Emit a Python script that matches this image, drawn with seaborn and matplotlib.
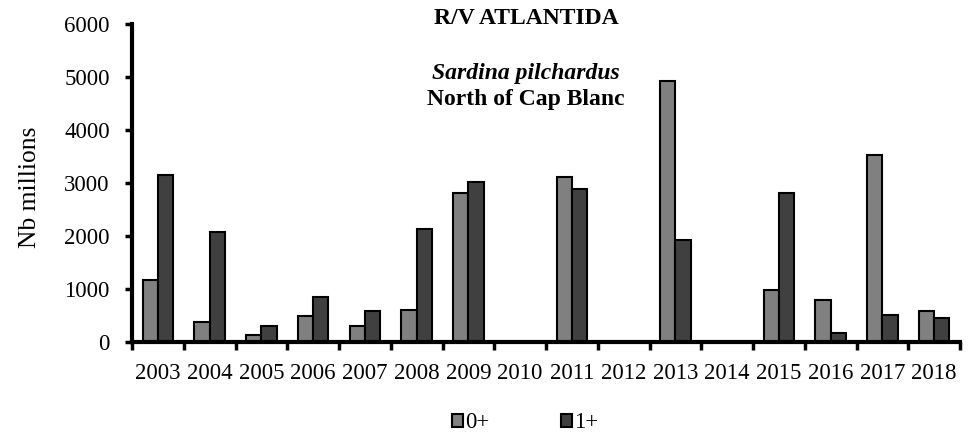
import numpy as np
import pandas as pd
import matplotlib
matplotlib.use("Agg")
import matplotlib.pyplot as plt
import seaborn as sns
from matplotlib.patches import Patch

years = ["2003", "2004", "2005", "2006", "2007", "2008", "2009", "2010",
         "2011", "2012", "2013", "2014", "2015", "2016", "2017", "2018"]
age0 = [1180, 380, 125, 485, 300, 600, 2820, np.nan, 3110, np.nan, 4925, np.nan, 980, 800, 3540, 595]
age1 = [3160, 2080, 300, 845, 590, 2140, 3020, np.nan, 2885, np.nan, 1935, np.nan, 2815, 170, 520, 445]
groups = ["0+", "1+"]
colors = ["#808080", "#404040"]

df = pd.DataFrame({
    "year": years * 2,
    "value": age0 + age1,
    "group": [groups[0]] * len(years) + [groups[1]] * len(years),
})

sns.set_style("white")
plt.rcParams["font.family"] = ["Liberation Serif", "DejaVu Serif"]
for k in ["text.color", "axes.labelcolor", "xtick.color", "ytick.color"]:
    plt.rcParams[k] = "black"

fig = plt.figure(figsize=(9.8, 4.33), dpi=100)
ax = fig.add_axes([0.1347, 0.210, 0.845, 0.734])

sns.barplot(data=df, x="year", y="value", hue="group", order=years,
            hue_order=groups, palette=colors, width=0.59, edgecolor="black",
            linewidth=1.5, ax=ax, legend=False, saturation=1)

ax.set_ylim(0, 6000)
ax.set_xlim(-0.5, len(years) - 0.5)
ax.set_yticks(np.arange(0, 6001, 1000))
ax.tick_params(axis="y", labelsize=16.5, length=5, width=2.5, direction="out", left=True, pad=11)
ax.set_xticks(np.arange(len(years)))
ax.set_xticklabels(years)
ax.set_xticks(np.arange(-0.5, len(years), 1), minor=True)
ax.tick_params(axis="x", which="major", length=0, labelsize=16.5, pad=15)
ax.tick_params(axis="x", which="minor", length=6, width=2.5, direction="out", bottom=True)
ax.set_xlabel("")
ax.set_ylabel("")
fig.text(30 / 980, 1 - 187 / 433, "Nb millions", rotation=90, ha="center",
         va="center", fontsize=18.4)

sns.despine(ax=ax)
for s in ["left", "bottom"]:
    ax.spines[s].set_linewidth(3)
    ax.spines[s].set_color("black")

cx = 526 / 980
fig.text(cx, 1 - 19 / 433, "R/V ATLANTIDA", ha="center", va="center",
         fontsize=17, fontweight="bold")
fig.text(cx, 1 - 74 / 433, "Sardina pilchardus", ha="center", va="center",
         fontsize=17, fontweight="bold", style="italic")
fig.text(cx, 1 - 99 / 433, "North of Cap Blanc", ha="center", va="center",
         fontsize=17, fontweight="bold")

handles = [Patch(facecolor=c, edgecolor="black", linewidth=1.5) for c in colors]
fig.legend(handles, groups, loc="center", bbox_to_anchor=(525 / 980, 1 - 423 / 433), ncol=2,
           frameon=False, fontsize=16.5, handlelength=0.5, handleheight=0.5,
           handletextpad=0.1, columnspacing=3.1, borderpad=0, borderaxespad=0)

fig.savefig("out.png", dpi=100)
